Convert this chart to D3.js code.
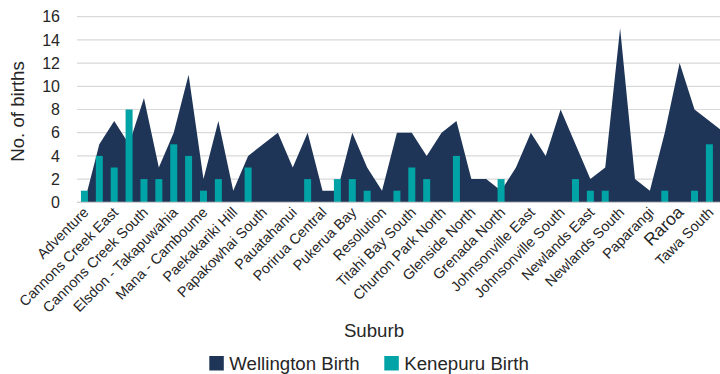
<!DOCTYPE html>
<html>
<head>
<meta charset="utf-8">
<script src="https://cdn.jsdelivr.net/npm/d3@7"></script>
<style>
  html, body { margin: 0; padding: 0; background: #fff; }
  svg { display: block; font-family: "Liberation Sans", Arial, sans-serif; }
</style>
</head>
<body>
<svg id="chart" width="720" height="374"></svg>
<script>
// Suburbs along the category axis (every second one carries a tick label)
const suburbs = [
  "Adventure", "Aotea", "Cannons Creek East", "Cannons Creek North",
  "Cannons Creek South", "Castor Crescent", "Elsdon - Takapuwahia", "Kenepuru",
  "Mana - Camboume", "Onepoto", "Paekakariki Hill", "Papakowhai North",
  "Papakowhai South", "Paremata", "Pauatahanui", "Plimmerton",
  "Porirua Central", "Porirua East", "Pukerua Bay", "Ranui",
  "Resolution", "Titahi Bay North", "Titahi Bay South", "Waitangirua",
  "Churton Park North", "Churton Park South", "Glenside North", "Glenside South",
  "Grenada North", "Grenada Village", "Johnsonville East", "Johnsonville North",
  "Johnsonville South", "Khandallah", "Newlands East", "Newlands North",
  "Newlands South", "Ohariu", "Paparangi", "Rangoon Heights",
  "Raroa", "Tawa Central", "Tawa South", "Woodridge"
];

// Births by hospital
const wellingtonBirths = [
  0, 5, 7, 5, 9, 3, 6, 11, 2, 7, 1, 4,
  5, 6, 3, 6, 1, 1, 6, 3, 1, 6, 6, 4,
  6, 7, 2, 2, 1, 3, 6, 4, 8, 5, 2, 3,
  15, 2, 1, 6, 12, 8, 7, 6
];
const kenepuruBirths = [
  1, 4, 3, 8, 2, 2, 5, 4, 1, 2, 0, 3,
  0, 0, 0, 2, 0, 2, 2, 1, 0, 1, 3, 2,
  0, 4, 0, 0, 2, 0, 0, 0, 0, 2, 1, 1,
  0, 0, 0, 1, 0, 1, 5, 0
];

const yTicks = [0, 2, 4, 6, 8, 10, 12, 14, 16];
const seriesNames = ["Wellington Birth", "Kenepuru Birth"];
const colours = { wellington: "#1f3557", kenepuru: "#00a3a6" };

const svg = d3.select("#chart");
const plot = { left: 77, top: 16.7, bottom: 202.3, band: 14.88 };
plot.right = plot.left + plot.band * suburbs.length;

const x = d3.scaleBand().domain(suburbs).range([plot.left, plot.right]).paddingInner(0).paddingOuter(0);
const y = d3.scaleLinear().domain([0, 16]).range([plot.bottom, plot.top]);
const cx = d => x(d) + x.bandwidth() / 2;

// Horizontal gridlines
svg.append("g").selectAll("line").data(yTicks).join("line")
  .attr("x1", plot.left).attr("x2", plot.right)
  .attr("y1", d => y(d)).attr("y2", d => y(d))
  .attr("stroke", "#d9d9d9").attr("stroke-width", 1.2);

// Wellington births as a filled area
const rows = suburbs.map((s, i) => ({ s, w: wellingtonBirths[i], k: kenepuruBirths[i] }));
const area = d3.area().x(d => cx(d.s)).y0(y(0)).y1(d => y(d.w));
svg.append("path").datum(rows).attr("d", area).attr("fill", colours.wellington);

// Kenepuru births as columns
const barW = x.bandwidth() * 0.47;
svg.append("g").selectAll("rect").data(rows).join("rect")
  .attr("x", d => cx(d.s) - barW / 2)
  .attr("width", barW)
  .attr("y", d => y(d.k))
  .attr("height", d => y(0) - y(d.k))
  .attr("fill", colours.kenepuru);

// Category axis baseline
svg.append("line")
  .attr("x1", plot.left).attr("x2", plot.right)
  .attr("y1", y(0)).attr("y2", y(0))
  .attr("stroke", "#d0d0d0").attr("stroke-width", 1.2);

// Value axis labels
const yAxis = d3.axisLeft(y).tickValues(yTicks).tickSize(0).tickPadding(0).tickFormat(d3.format("d"));
const yg = svg.append("g").attr("transform", "translate(60,0)").call(yAxis);
yg.select(".domain").remove();
yg.selectAll("text").attr("font-size", 16).attr("fill", "#262626")
  .attr("font-family", "Liberation Sans, Arial, sans-serif");

// Category labels, every second suburb, slanted
const xAxis = d3.axisBottom(x).tickSize(0).tickPadding(0)
  .tickFormat((d, i) => i % 2 === 0 ? d : "");
const xg = svg.append("g").attr("transform", `translate(0,${y(0)})`).call(xAxis);
xg.select(".domain").remove();
xg.selectAll("text")
  .attr("font-family", "Liberation Sans, Arial, sans-serif")
  .attr("font-size", d => d === "Raroa" ? 17.5 : 14.4)
  .attr("fill", "#262626")
  .attr("text-anchor", "end")
  .attr("y", 0).attr("dy", 0)
  .attr("transform", "translate(5,11) rotate(-45)");

// Axis titles
svg.append("text")
  .attr("transform", `translate(24,${(plot.top + plot.bottom) / 2 + 2}) rotate(-90)`)
  .attr("text-anchor", "middle").attr("font-size", 18.67).attr("fill", "#262626")
  .text("No. of births");
svg.append("text")
  .attr("x", 374).attr("y", 337)
  .attr("text-anchor", "middle").attr("font-size", 18.67).attr("fill", "#262626")
  .text("Suburb");

// Legend
const legend = svg.append("g");
const legendX = [209.3, 384.3];
const legendCol = [colours.wellington, colours.kenepuru];
seriesNames.forEach((name, i) => {
  legend.append("rect").attr("x", legendX[i]).attr("y", 356).attr("width", 14.5).attr("height", 14.5)
    .attr("fill", legendCol[i]);
  legend.append("text").attr("x", legendX[i] + 20).attr("y", 369.5)
    .attr("font-size", 18.67).attr("fill", "#262626").text(name);
});
</script>
</body>
</html>
